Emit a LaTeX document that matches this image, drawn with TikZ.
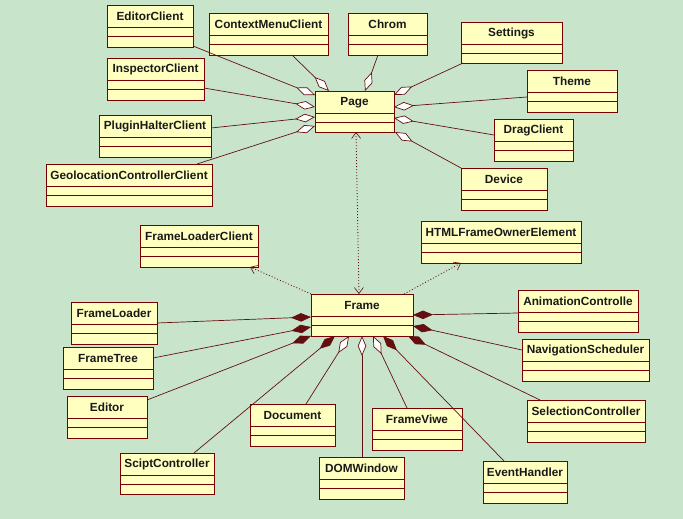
\documentclass[tikz,border=0pt]{standalone}
\usepackage{fontspec}
\setmainfont{Liberation Sans}
\usetikzlibrary{arrows.meta,calc}
\definecolor{bg}{RGB}{200,229,204}
\definecolor{boxfill}{RGB}{255,255,192}
\definecolor{dred}{RGB}{120,0,0}
\definecolor{lnc}{RGB}{100,15,15}
\newcommand\umlclass[6]{%
  \node[cls, anchor=north west, minimum width={#4pt-#2pt}, minimum height={#5pt-#3pt}] (#1) at (#2,#3) {};
  \node[ttl] at ($(#1.north)+(0,11.5)$) {#6};
  \draw[divl] ($(#1.north west)+(0,22.5)$) -- ($(#1.north east)+(0,22.5)$)
              ($(#1.north west)+(0,31.5)$) -- ($(#1.north east)+(0,31.5)$);
}
\begin{document}
\begin{tikzpicture}[x=1pt,y=-1pt,
  cls/.style={draw=dred, fill=boxfill, line width=0.9pt, inner sep=0pt, outer sep=0pt},
  ttl/.style={font=\bfseries\fontsize{11.8}{13}\selectfont, inner sep=0pt, text=black!90},
  divl/.style={draw=dred, line width=0.8pt},
  comp/.style={draw=lnc, line width=0.7pt, -{Diamond[length=20pt,width=8.5pt]}},
  agg/.style={draw=lnc, line width=0.7pt, -{Diamond[length=20pt,width=8.5pt,fill=white]}},
  dep/.style={draw=lnc, line width=0.8pt, dash pattern=on 1pt off 2pt},
  deptip/.style={-{Straight Barb[length=6pt,width=9pt,line width=0.6pt]}},
  deptips/.style={{Straight Barb[length=6pt,width=9pt,line width=0.6pt]}-{Straight Barb[length=6pt,width=9pt,line width=0.6pt]}}
]
\fill[bg] (0,0) rectangle (683,519);
\useasboundingbox (0,0) rectangle (683,519);

% Page group
\umlclass{editorclient}{107}{5}{193}{47}{EditorClient}
\umlclass{contextmenuclient}{209}{13}{328}{55}{ContextMenuClient}
\umlclass{chrom}{348}{13}{427}{55}{Chrom}
\umlclass{settings}{461}{22}{562}{63}{Settings}
\umlclass{inspectorclient}{107}{58}{204}{100}{InspectorClient}
\umlclass{theme}{527}{70}{617}{112}{Theme}
\umlclass{page}{315}{91}{394}{132}{Page}
\umlclass{pluginhalterclient}{99}{115}{211}{157}{PluginHalterClient}
\umlclass{dragclient}{494}{119}{573}{161}{DragClient}
\umlclass{geolocationcontrollerclient}{46}{164}{212}{206}{GeolocationControllerClient}
\umlclass{device}{461}{168}{547}{210}{Device}

% Frame group
\umlclass{htmlframeownerelement}{421}{221}{581}{263}{HTMLFrameOwnerElement}
\umlclass{frameloaderclient}{140}{225}{258}{267}{FrameLoaderClient}
\umlclass{animationcontrolle}{518}{290}{638}{332}{AnimationControlle}
\umlclass{frame}{311}{294}{413}{336}{Frame}
\umlclass{frameloader}{71}{302}{157}{344}{FrameLoader}
\umlclass{navigationscheduler}{522}{339}{649}{381}{NavigationScheduler}
\umlclass{frametree}{63}{347}{153}{389}{FrameTree}
\umlclass{editor}{67}{396}{147}{438}{Editor}
\umlclass{selectioncontroller}{527}{400}{645}{442}{SelectionController}
\umlclass{document}{250}{404}{335}{446}{Document}
\umlclass{frameviwe}{372}{408}{462}{450}{FrameViwe}
\umlclass{sciptcontroller}{120}{453}{214}{494}{SciptController}
\umlclass{domwindow}{319}{457}{404}{499}{DOMWindow}
\umlclass{eventhandler}{483}{461}{567}{503}{EventHandler}

% Page aggregations
\draw[agg] ($(editorclient.south east)+(0,-1)$) -- ($(page.north west)+(0,4)$);
\draw[agg] ($(inspectorclient.north east)+(0,30)$) -- ($(page.north west)+(0,16)$);
\draw[agg] ($(pluginhalterclient.north east)+(0,13)$) -- ($(page.north west)+(0,26)$);
\draw[agg] ($(geolocationcontrollerclient.north east)+(-15,0)$) -- ($(page.north west)+(0,35)$);
\draw[agg] ($(contextmenuclient.south east)+(-36,0)$) -- ($(page.north west)+(14,0)$);
\draw[agg] ($(chrom.south west)+(30,0)$) -- ($(page.north west)+(50,0)$);
\draw[agg] ($(settings.south west)+(2,0)$) -- ($(page.north east)+(0,4)$);
\draw[agg] ($(theme.north west)+(0,27)$) -- ($(page.north east)+(0,16)$);
\draw[agg] ($(dragclient.north west)+(0,16)$) -- ($(page.north east)+(0,27)$);
\draw[agg] (device.north west) -- ($(page.south east)+(1,0)$);

% Dependencies
\draw[dep,deptips] ($(frame.north west)+(48,0)$) -- ($(page.south west)+(41,0)$);
\draw[dep,deptip] (frame.north west) -- ($(frameloaderclient.south east)+(-8,0)$);
\draw[dep,deptip] ($(frame.north east)+(-9,0)$) -- ($(htmlframeownerelement.south west)+(40,0)$);

% Frame compositions / aggregations
\draw[comp] ($(frameloader.north east)+(0,21)$) -- ($(frame.north west)+(0,23)$);
\draw[comp] ($(frametree.north east)+(0,11)$) -- ($(frame.north west)+(0,33)$);
\draw[comp] ($(editor.north east)+(0,4)$) -- (frame.south west);
\draw[comp] ($(sciptcontroller.north west)+(74,0)$) -- ($(frame.south west)+(24,0)$);
\draw[agg] ($(document.north west)+(56,0)$) -- ($(frame.south west)+(38,0)$);
\draw[agg] ($(domwindow.north west)+(43,0)$) -- ($(frame.south west)+(51,0)$);
\draw[agg] ($(frameviwe.north west)+(35,0)$) -- ($(frame.south west)+(62,0)$);
\draw[comp] ($(eventhandler.north west)+(21,0)$) -- ($(frame.south west)+(72,0)$);
\draw[comp] ($(selectioncontroller.north west)+(13,0)$) -- ($(frame.south east)+(-5,0)$);
\draw[comp] ($(animationcontrolle.north west)+(0,23)$) -- ($(frame.north east)+(0,21)$);
\draw[comp] ($(navigationscheduler.north west)+(0,11)$) -- ($(frame.north east)+(0,32)$);
\end{tikzpicture}
\end{document}
